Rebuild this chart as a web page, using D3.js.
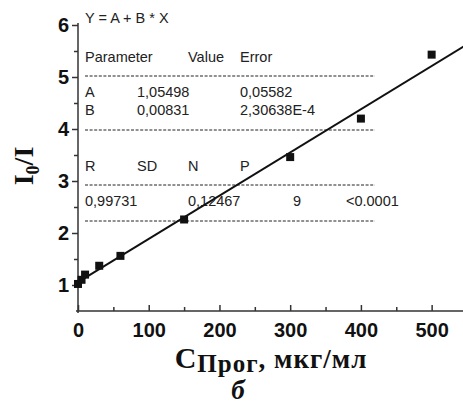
<!DOCTYPE html>
<html>
<head>
<meta charset="utf-8">
<script src="https://cdn.jsdelivr.net/npm/d3@7"></script>
<style>
  body { margin: 0; background: #fff; }
  svg { display: block; }
</style>
</head>
<body>
<div id="chart"></div>
<script>
// calibration data: concentration vs I0/I
const concValues = [0, 5, 10, 30, 60, 150, 300, 400, 500];
const ratioValues = [1.02, 1.1, 1.2, 1.37, 1.56, 2.26, 3.46, 4.2, 5.43];
const xTicks = [0, 100, 200, 300, 400, 500];
const xMinorTicks = [50, 150, 250, 350, 450];
const yTicks = [1, 2, 3, 4, 5, 6];
const yMinorTicks = [1.5, 2.5, 3.5, 4.5, 5.5];
const fitA = 1.05498;
const fitB = 0.00831;

// fit table rows
const tableHeader1 = ["Parameter", "Value", "Error"];
const tableRowA = ["A", "1,05498", "0,05582"];
const tableRowB = ["B", "0,00831", "2,30638E-4"];
const tableHeader2 = ["R", "SD", "N", "P"];
const tableRowStats = ["0,99731", "0,12467", "9", "<0.0001"];

const width = 463, height = 406;

const svg = d3.select("#chart").append("svg")
    .attr("width", width)
    .attr("height", height);

const x = d3.scaleLinear().domain([0, 550]).range([78, 467]);
const y = d3.scaleLinear().domain([0.5, 6]).range([311, 25]);

const axisColor = "#333";

// y axis (ticks point outward)
const yAxis = svg.append("g")
    .attr("transform", `translate(${x(0)},0)`)
    .call(d3.axisLeft(y).tickValues(yTicks).tickFormat(d3.format("d"))
        .tickSize(6).tickSizeOuter(0).tickPadding(3));
svg.append("g")
    .attr("transform", `translate(${x(0)},0)`)
    .call(d3.axisLeft(y).tickValues(yMinorTicks).tickSize(4).tickFormat(""))
    .select(".domain").remove();
yAxis.select(".domain").attr("d", `M0,${y(0.5) + 2}V${y(6) - 2}`);

// x axis (ticks point inward)
const xAxis = svg.append("g")
    .attr("transform", `translate(0,${y(0.5)})`)
    .call(d3.axisBottom(x).tickValues(xTicks).tickFormat(d3.format("d"))
        .tickSize(-6).tickSizeOuter(0).tickPadding(12));
svg.append("g")
    .attr("transform", `translate(0,${y(0.5)})`)
    .call(d3.axisBottom(x).tickValues(xMinorTicks).tickSize(-4).tickFormat(""))
    .select(".domain").remove();
xAxis.select(".domain").attr("d", `M${x(0) - 2},0H${width}`);

svg.selectAll(".domain, .tick line")
    .attr("stroke", axisColor)
    .attr("stroke-width", 1.5);

svg.selectAll(".tick text")
    .attr("fill", "#111")
    .style("font-family", "Liberation Sans, Arial, sans-serif")
    .style("font-weight", "bold")
    .style("font-size", "20px");

// fit table
const table = svg.append("g")
    .style("font-family", "Liberation Sans, Arial, sans-serif")
    .style("font-size", "14.5px")
    .attr("fill", "#222");

const col3 = [85, 188, 240];
const col4 = [85, 188, 293, 346];

table.append("text").attr("x", 85).attr("y", 23).text("Y = A + B * X");
tableHeader1.forEach((t, i) => table.append("text").attr("x", col3[i]).attr("y", 62).text(t));
table.append("text").attr("x", 85).attr("y", 97).text(tableRowA[0]);
table.append("text").attr("x", 137).attr("y", 97).text(tableRowA[1]);
table.append("text").attr("x", 240).attr("y", 97).text(tableRowA[2]);
table.append("text").attr("x", 85).attr("y", 115).text(tableRowB[0]);
table.append("text").attr("x", 137).attr("y", 115).text(tableRowB[1]);
table.append("text").attr("x", 240).attr("y", 115).text(tableRowB[2]);
[85, 137, 188, 240].forEach((cx, i) => table.append("text").attr("x", cx).attr("y", 171).text(tableHeader2[i]));
tableRowStats.forEach((t, i) => table.append("text").attr("x", col4[i]).attr("y", 206).text(t));

[76, 130, 185, 221].forEach(ly => {
    svg.append("line")
        .attr("x1", 85).attr("x2", 375)
        .attr("y1", ly).attr("y2", ly)
        .attr("stroke", "#222")
        .attr("stroke-width", 1)
        .attr("stroke-dasharray", "3,1.6");
});

// fit line
svg.append("line")
    .attr("x1", x(0)).attr("y1", y(fitA))
    .attr("x2", x(550)).attr("y2", y(fitA + fitB * 550))
    .attr("stroke", "#111")
    .attr("stroke-width", 2);

// data points
const sq = 8;
svg.selectAll("rect.pt")
    .data(concValues)
    .enter()
    .append("rect")
    .attr("class", "pt")
    .attr("x", (d) => x(d) - sq / 2)
    .attr("y", (d, i) => y(ratioValues[i]) - sq / 2)
    .attr("width", sq)
    .attr("height", sq)
    .attr("fill", "#111");

// y label: I0/I
const yLabel = svg.append("text")
    .attr("transform", "translate(33,166) rotate(-90)")
    .attr("text-anchor", "middle")
    .style("font-family", "Liberation Serif, Times New Roman, serif")
    .style("font-weight", "bold")
    .style("font-size", "28px")
    .attr("fill", "#111");
yLabel.append("tspan").text("I");
yLabel.append("tspan").attr("dy", 6).style("font-size", "18px").text("0");
yLabel.append("tspan").attr("dy", -6).text("/I");

// x label: CПрог, мкг/мл
const xLabel = svg.append("text")
    .attr("x", 271).attr("y", 368)
    .attr("text-anchor", "middle")
    .style("font-family", "Liberation Serif, Times New Roman, serif")
    .style("font-weight", "bold")
    .style("font-size", "27px")
    .style("letter-spacing", "1px")
    .attr("fill", "#111");
xLabel.append("tspan").style("font-size", "30px").text("C");
xLabel.append("tspan").attr("dy", 4).style("font-size", "25px").text("Прог");
xLabel.append("tspan").attr("dy", -4).text(", мкг/мл");

svg.append("text")
    .attr("x", 238).attr("y", 399)
    .attr("text-anchor", "middle")
    .style("font-family", "Liberation Serif, Times New Roman, serif")
    .style("font-weight", "bold")
    .style("font-style", "italic")
    .style("font-size", "27px")
    .attr("fill", "#111")
    .text("б");
</script>
</body>
</html>
